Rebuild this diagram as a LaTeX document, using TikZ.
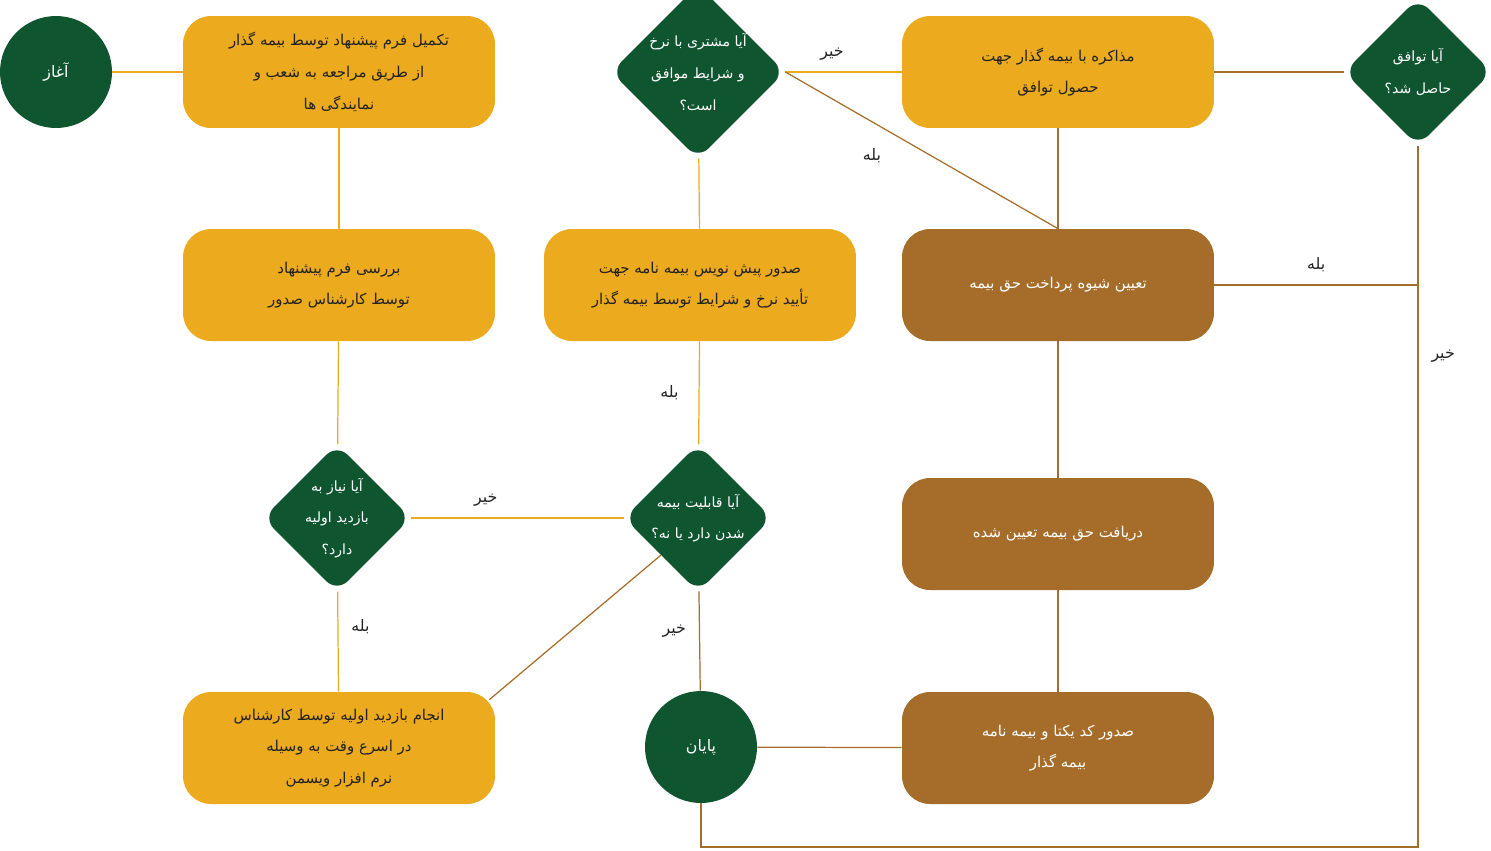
\documentclass[tikz,border=0pt]{standalone}
\usepackage{fontspec}
\newfontfamily\persian[Script=Arabic]{DejaVu Sans}
\usetikzlibrary{shapes.geometric}
\TeXXeTstate=1
\newcommand{\fa}[1]{\beginR #1\endR}
\definecolor{dgreen}{HTML}{0F5530}
\definecolor{gold}{HTML}{ECAA1F}
\definecolor{bronze}{HTML}{A66C29}
\definecolor{ink}{HTML}{222222}
\tikzset{
  box/.style={rectangle, rounded corners=0.56cm, minimum width=6.24cm, minimum height=2.24cm,
    align=center, font=\persian\fontsize{8.5}{18}\selectfont, text=ink},
  ybox/.style={box, fill=gold},
  bbox/.style={box, fill=bronze, text=white},
  ask/.style={diamond, fill=dgreen, rounded corners=0.3cm, minimum width=2.96cm, minimum height=2.96cm,
    inner sep=0pt, align=center, text=white, font=\persian\fontsize{8}{18}\selectfont},
  term/.style={circle, fill=dgreen, minimum size=2.24cm, text=white, font=\persian\fontsize{9}{12}\selectfont},
  yline/.style={gold, line width=0.7pt},
  bline/.style={bronze, line width=0.7pt},
  tag/.style={font=\persian\fontsize{9}{12}\selectfont, text=ink}
}
\begin{document}
\begin{tikzpicture}[x=0.02cm, y=-0.02cm]
\useasboundingbox (0,0) rectangle (1491,850);

% start, yellow column
\node[term] (start) at (56,72) {\fa{آغاز}};
\node[ybox] (form) at (339,72) {\fa{تکمیل فرم پیشنهاد توسط بیمه گذار}\\\fa{از طریق مراجعه به شعب و}\\\fa{نمایندگی ها}};
\node[ybox] (check) at (339,285) {\fa{بررسی فرم پیشنهاد}\\\fa{توسط کارشناس صدور}};
\node[ask] (visit) at (337,518) {\fa{آیا نیاز به}\\\fa{بازدید اولیه}\\\fa{دارد؟}};
\node[ybox] (insp) at (339,748) {\fa{انجام بازدید اولیه توسط کارشناس}\\\fa{در اسرع وقت به وسیله}\\\fa{نرم افزار ویسمن}};

% middle column
\node[ask] (agree) at (698,72) {\fa{آیا مشتری با نرخ}\\\fa{و شرایط موافق}\\\fa{است؟}};
\node[ybox] (draft) at (700,285) {\fa{صدور پیش نویس بیمه نامه جهت}\\\fa{تأیید نرخ و شرایط توسط بیمه گذار}};
\node[ask] (able) at (698,518) {\fa{آیا قابلیت بیمه}\\\fa{شدن دارد یا نه؟}};
\node[term] (stop) at (701,747) {\fa{پایان}};

% right column
\node[ybox] (nego) at (1058,72) {\fa{مذاکره با بیمه گذار جهت}\\\fa{حصول توافق}};
\node[bbox] (pay) at (1058,285) {\fa{تعیین شیوه پرداخت حق بیمه}};
\node[bbox] (recv) at (1058,534) {\fa{دریافت حق بیمه تعیین شده}};
\node[bbox] (issue) at (1058,748) {\fa{صدور کد یکتا و بیمه نامه}\\\fa{بیمه گذار}};
\node[ask] (deal) at (1418,72) {\fa{آیا توافق}\\\fa{حاصل شد؟}};
\coordinate (c1) at (1418,847);
\coordinate (c2) at (701,847);

% connectors
\draw[yline] (start) -- (form);
\draw[yline] (form) -- (check);
\draw[yline] (check) -- (visit);
\draw[yline] (visit) -- node[tag, pos=0.35, right=4pt] {\fa{بله}} (insp);
\draw[yline] (visit) -- node[tag, above=3pt, pos=0.35] {\fa{خیر}} (able);
\draw[bline] (insp.north east) ++(-6,8) coordinate (i1) -- (able.south west) ++(0,0);
\draw[yline] (draft) -- node[tag, left=8pt] {\fa{بله}} (able);
\draw[yline] (draft) -- (agree);
\draw[yline] (agree) -- node[tag, pos=0.4, above=3pt] {\fa{خیر}} (nego);
\draw[bline] (agree.east) ++(0,0) -- node[tag, pos=0.4, below left=4pt] {\fa{بله}} (pay.north);
\draw[bline] (nego) -- (pay);
\draw[bline] (nego) -- (deal);
\draw[bline] (pay) -- node[tag, pos=0.5, above=4pt] {\fa{بله}} (deal.center |- pay);
\draw[bline] (deal) -- node[tag, pos=0.3, right=4pt] {\fa{خیر}} (c1) -- (c2) -- (stop);
\draw[bline] (pay) -- (recv);
\draw[bline] (recv) -- (issue);
\draw[bline] (issue) -- (stop);
\draw[bline] (able) -- node[tag, pos=0.4, left=4pt] {\fa{خیر}} (stop);
\end{tikzpicture}
\end{document}
